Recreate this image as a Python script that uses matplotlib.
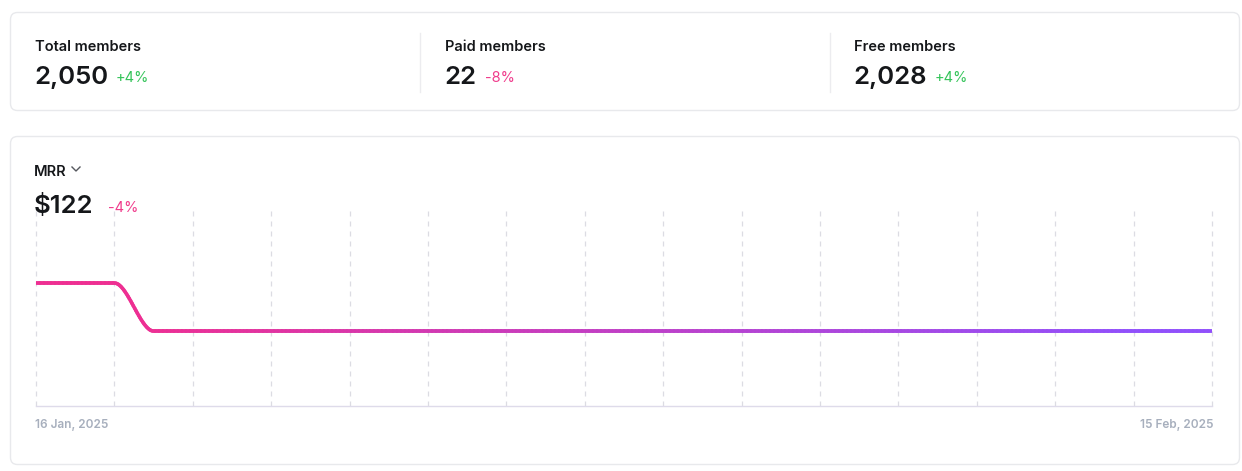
import datetime as dt
import numpy as np
import matplotlib
matplotlib.use("Agg")
import matplotlib.pyplot as plt
import matplotlib.dates as mdates
from matplotlib.collections import LineCollection
from matplotlib.patches import FancyBboxPatch
from matplotlib.lines import Line2D

plt.rcParams['font.family'] = ['Inter', 'DejaVu Sans']

# --- data ---
stat_labels = ["Total members", "Paid members", "Free members"]
stat_values = ["2,050", "22", "2,028"]
stat_changes = ["+4%", "-8%", "+4%"]

mrr_label = "MRR"
mrr_value = "$122"
mrr_change = "-4%"

start_day = dt.date(2025, 1, 16)
mrr_days = [start_day + dt.timedelta(days=i) for i in range(31)]
mrr_values = [127, 127, 127] + [122] * 28

W, H = 1242, 471
GREEN = "#35c45a"
PINK = "#f03c8c"
DARK = "#15171a"
GREY_TXT = "#a7afbd"
BORDER = "#e8e9ec"

fig = plt.figure(figsize=(W / 100, H / 100), dpi=100)
fig.patch.set_facecolor("white")


def fx(px):
    return px / W


def fy(py):
    return 1 - py / H


# cards (pixel coords)
for x0, y0, x1, y1 in [(10, 12, 1240, 111), (10, 136, 1240, 465)]:
    card = FancyBboxPatch((x0 + 0.5, H - y1 + 0.5), x1 - x0 - 1, y1 - y0 - 1,
                          boxstyle="round,pad=0,rounding_size=7",
                          transform=None, facecolor="white",
                          edgecolor=BORDER, linewidth=1.0, zorder=-10)
    fig.patches.append(card)

# dividers between stat blocks
for xd in (419.5, 829.5):
    fig.lines.append(Line2D([fx(xd), fx(xd)], [fy(33), fy(92)],
                            transform=fig.transFigure, color="#ececef", lw=1))

# stat blocks
label_x = [35, 445, 854]
change_x = [116, 485, 935]
for i in range(3):
    fig.text(fx(label_x[i]), fy(51), stat_labels[i], fontsize=10.5,
             fontweight="semibold", color=DARK, va="baseline")
    fig.text(fx(label_x[i] - 1), fy(84), stat_values[i], fontsize=18.5,
             fontweight="semibold", color=DARK, va="baseline")
    col = GREEN if stat_changes[i].startswith("+") else PINK
    fig.text(fx(change_x[i]), fy(82), stat_changes[i], fontsize=10.5,
             color=col, va="baseline")

# MRR header
fig.text(fx(34), fy(176), mrr_label, fontsize=10.5, fontweight="semibold",
         color=DARK, va="baseline")
fig.lines.append(Line2D([fx(72), fx(76), fx(80)], [fy(167), fy(171), fy(167)],
                        transform=fig.transFigure, color="#55585e", lw=1))
fig.text(fx(34), fy(213), mrr_value, fontsize=18.5, fontweight="semibold",
         color=DARK, va="baseline")
fig.text(fx(108), fy(212), mrr_change, fontsize=10.5, color=PINK,
         va="baseline")

# chart axes
ax = fig.add_axes([fx(36), fy(406), fx(1212) - fx(36), (406 - 210) / H])
ax.set_facecolor("none")
ax.set_zorder(5)

xnum = mdates.date2num(mrr_days)
yv = np.array(mrr_values, dtype=float)

# monotone cubic (flat neighbours -> zero slopes) rendering of the series
xs, ys = [], []
for i in range(len(xnum) - 1):
    t = np.linspace(0, 1, 30)
    h = t * t * (3 - 2 * t)
    xs.append(xnum[i] + (xnum[i + 1] - xnum[i]) * t)
    ys.append(yv[i] + (yv[i + 1] - yv[i]) * h)
xs = np.concatenate(xs)
ys = np.concatenate(ys)
pts = np.column_stack([xs, ys]).reshape(-1, 1, 2)
segs = np.concatenate([pts[:-1], pts[1:]], axis=1)
c0 = np.array(matplotlib.colors.to_rgb("#ee2f92"))
c1 = np.array(matplotlib.colors.to_rgb("#9150fb"))
frac = (xs[:-1] - xnum[0]) / (xnum[-1] - xnum[0])
f2 = np.clip((frac - 0.08) / 0.85, 0, 1)
cols = c0[None, :] * (1 - f2[:, None]) + c1[None, :] * f2[:, None]
lc = LineCollection(segs, colors=cols, linewidths=2.6, capstyle="round",
                    zorder=3)
ax.add_collection(lc)

ax.set_xlim(xnum[0], xnum[-1])
ax.set_ylim(114.2, 134.6)

# dashed vertical grid every 2 days
for d in xnum[::2]:
    ax.axvline(d, color="#dcdce3", lw=0.9, ls=(0, (4, 4)), zorder=1,
               clip_on=False)

for s in ["top", "right", "left"]:
    ax.spines[s].set_visible(False)
ax.spines["bottom"].set_color("#dedbea")
ax.spines["bottom"].set_linewidth(1)
ax.set_yticks([])
ax.set_xticks([])

fig.text(fx(35), fy(428), mrr_days[0].strftime("%-d %b, %Y"), fontsize=8.5,
         fontweight="semibold", color=GREY_TXT, va="baseline", ha="left")
fig.text(fx(1214), fy(428), mrr_days[-1].strftime("%-d %b, %Y"), fontsize=8.5,
         fontweight="semibold", color=GREY_TXT, va="baseline", ha="right")

fig.savefig("out.png", dpi=100, facecolor="white")
